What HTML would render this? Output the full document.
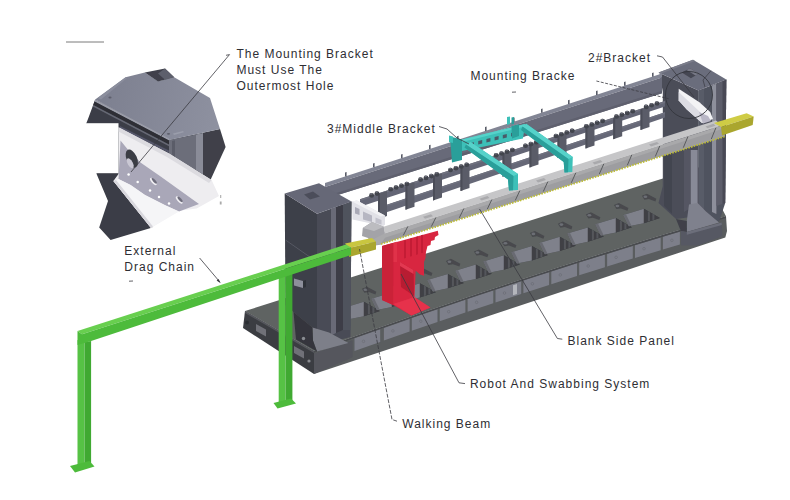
<!DOCTYPE html>
<html><head><meta charset="utf-8"><title>Layout</title>
<style>
html,body{margin:0;padding:0;background:#fff;}
body{width:790px;height:500px;overflow:hidden;position:relative;font-family:"Liberation Sans",sans-serif;}
svg{position:absolute;left:0;top:0;}
.t{position:absolute;white-space:nowrap;color:#2e2e33;font-size:12px;line-height:16px;letter-spacing:1px;}
</style></head><body>
<svg width="790" height="500" viewBox="0 0 790 500">
<defs><filter id="soft" x="-5%" y="-5%" width="110%" height="110%"><feGaussianBlur stdDeviation="0.55"/></filter></defs>
<g filter="url(#soft)">
<g id="base">
<polygon points="245.0,311.0 314.0,351.1 334.6,343.6 355.2,336.2 375.8,328.9 396.4,321.7 417.0,314.5 437.6,307.5 458.2,300.4 478.8,293.5 499.4,286.7 520.0,279.9 540.6,273.2 561.2,266.6 581.8,260.0 602.4,253.6 623.0,247.2 643.6,240.8 664.2,234.6 684.8,228.4 705.4,222.4 726.0,216.3 700.0,166.9 658.0,180.1" fill="#5f6362" />
<polygon points="245.0,311.0 314.0,351.0 314.0,374.0 243.0,328.0" fill="#3b3d42" />
<polygon points="314.0,351.1 334.6,343.6 355.2,336.2 375.8,328.9 396.4,321.7 417.0,314.5 437.6,307.5 458.2,300.4 478.8,293.5 499.4,286.7 520.0,279.9 540.6,273.2 561.2,266.6 581.8,260.0 602.4,253.6 623.0,247.2 643.6,240.8 664.2,234.6 684.8,228.4 705.4,222.4 726.0,216.3 727.0,231.0 725.3,237.4 314.0,374.0" fill="#5a5d5e" />
<polygon points="354.5,338.3 380.2,329.2 380.2,341.9 354.5,351.0" fill="#7d7f8a" />
<circle cx="363.5" cy="341.3" r="1.3" fill="none" stroke="#64666f" stroke-width="0.5"/>
<polygon points="383.9,327.9 409.6,318.9 409.6,331.6 383.9,340.6" fill="#7d7f8a" />
<circle cx="392.9" cy="330.9" r="1.3" fill="none" stroke="#64666f" stroke-width="0.5"/>
<polygon points="411.8,318.1 437.5,309.3 437.5,322.0 411.8,330.8" fill="#7d7f8a" />
<circle cx="420.8" cy="321.2" r="1.3" fill="none" stroke="#64666f" stroke-width="0.5"/>
<polygon points="439.7,308.5 465.4,299.8 465.4,312.5 439.7,321.2" fill="#7d7f8a" />
<circle cx="448.7" cy="311.7" r="1.3" fill="none" stroke="#64666f" stroke-width="0.5"/>
<polygon points="467.6,299.1 493.3,290.5 493.3,303.2 467.6,311.8" fill="#7d7f8a" />
<circle cx="476.6" cy="302.3" r="1.3" fill="none" stroke="#64666f" stroke-width="0.5"/>
<polygon points="495.5,289.8 521.2,281.3 521.2,294.0 495.5,302.5" fill="#7d7f8a" />
<circle cx="504.5" cy="293.0" r="1.3" fill="none" stroke="#64666f" stroke-width="0.5"/>
<polygon points="523.4,280.6 549.1,272.2 549.1,284.9 523.4,293.3" fill="#7d7f8a" />
<circle cx="532.4" cy="283.8" r="1.3" fill="none" stroke="#64666f" stroke-width="0.5"/>
<polygon points="551.3,271.5 577.0,263.3 577.0,276.0 551.3,284.2" fill="#7d7f8a" />
<circle cx="560.3" cy="274.9" r="1.3" fill="none" stroke="#64666f" stroke-width="0.5"/>
<polygon points="579.2,262.6 604.9,254.6 604.9,267.3 579.2,275.3" fill="#7d7f8a" />
<circle cx="588.2" cy="266.0" r="1.3" fill="none" stroke="#64666f" stroke-width="0.5"/>
<polygon points="607.1,253.9 632.8,245.9 632.8,258.6 607.1,266.6" fill="#7d7f8a" />
<circle cx="616.1" cy="257.3" r="1.3" fill="none" stroke="#64666f" stroke-width="0.5"/>
<polygon points="635.0,245.3 660.7,237.5 660.7,250.2 635.0,258.0" fill="#7d7f8a" />
<circle cx="644.0" cy="248.7" r="1.3" fill="none" stroke="#64666f" stroke-width="0.5"/>
<polygon points="662.9,236.8 679.9,231.7 679.9,244.4 662.9,249.5" fill="#7d7f8a" />
<circle cx="671.9" cy="240.3" r="1.3" fill="none" stroke="#64666f" stroke-width="0.5"/>
<polygon points="513.0,285.2 517.0,283.9 517.0,293.9 513.0,295.2" fill="#b4b6bc" />
<polygon points="314.0,353.5 352.5,340.2 352.5,357.2 314.0,374.0" fill="#54565d" />
<polygon points="256.0,324.0 266.0,329.5 266.0,336.5 256.0,331.0" fill="#6f7178" />
<polygon points="294.0,346.0 304.0,351.5 304.0,358.5 294.0,353.0" fill="#6f7178" />
<circle cx="247" cy="322.5" r="2" fill="#2c2e33"/><circle cx="304" cy="339" r="1.6" fill="#8a8c92"/><circle cx="309" cy="361" r="1.6" fill="#8a8c92"/>
<polygon points="245.0,311.0 314.0,351.0 314.0,353.0 245.0,313.0" fill="#55575c" />
<polygon points="314.0,351.1 334.6,343.6 355.2,336.2 375.8,328.9 396.4,321.7 417.0,314.5 437.6,307.5 458.2,300.4 478.8,293.5 499.4,286.7 520.0,279.9 540.6,273.2 561.2,266.6 581.8,260.0 602.4,253.6 623.0,247.2 643.6,240.8 664.2,234.6 684.8,228.4 705.4,222.4 726.0,216.3 726.0,217.9 705.4,224.0 684.8,230.0 664.2,236.2 643.6,242.4 623.0,248.8 602.4,255.2 581.8,261.6 561.2,268.2 540.6,274.8 520.0,281.5 499.4,288.3 478.8,295.1 458.2,302.0 437.6,309.1 417.0,316.1 396.4,323.3 375.8,330.5 355.2,337.8 334.6,345.2 314.0,352.7" fill="#494b4f" />
<polygon points="343.4,308.0 363.9,301.8 379.9,310.9 363.9,316.2 348.9,319.3" fill="#3e4044" />
<polygon points="343.4,308.0 363.9,301.8 363.9,316.2 348.9,319.3" fill="#7f818b" />
<polygon points="343.4,308.0 346.0,307.3 351.5,318.8 348.9,319.3" fill="#696b72" />
<polygon points="363.9,301.8 379.9,310.9 363.9,316.2" fill="#3f4145" />
<polygon points="367.9,304.1 369.9,305.2 369.9,314.0 367.9,314.6" fill="#55575c" />
<polygon points="372.4,306.6 374.4,307.8 374.4,312.6 372.4,313.2" fill="#55575c" />
<polygon points="361.9,288.8 366.9,286.7 376.4,291.7 375.4,294.5 368.9,292.1 364.4,292.8" fill="#484a4e" />
<ellipse cx="365.4" cy="289.7" rx="1.9" ry="1.3" fill="#6c6e74"/>
<polygon points="371.4,298.7 391.9,292.5 407.9,301.6 391.9,306.9 376.9,310.0" fill="#3e4044" />
<polygon points="371.4,298.7 391.9,292.5 391.9,306.9 376.9,310.0" fill="#7f818b" />
<polygon points="371.4,298.7 374.0,298.0 379.5,309.5 376.9,310.0" fill="#696b72" />
<polygon points="391.9,292.5 407.9,301.6 391.9,306.9" fill="#3f4145" />
<polygon points="395.9,294.8 397.9,295.9 397.9,304.7 395.9,305.3" fill="#55575c" />
<polygon points="400.4,297.3 402.4,298.5 402.4,303.3 400.4,303.9" fill="#55575c" />
<polygon points="389.9,279.5 394.9,277.4 404.4,282.4 403.4,285.2 396.9,282.8 392.4,283.5" fill="#484a4e" />
<ellipse cx="393.4" cy="280.4" rx="1.9" ry="1.3" fill="#6c6e74"/>
<polygon points="399.4,289.4 419.9,283.2 435.9,292.3 419.9,297.6 404.9,300.7" fill="#3e4044" />
<polygon points="399.4,289.4 419.9,283.2 419.9,297.6 404.9,300.7" fill="#7f818b" />
<polygon points="399.4,289.4 402.0,288.7 407.5,300.2 404.9,300.7" fill="#696b72" />
<polygon points="419.9,283.2 435.9,292.3 419.9,297.6" fill="#3f4145" />
<polygon points="423.9,285.5 425.9,286.6 425.9,295.4 423.9,296.0" fill="#55575c" />
<polygon points="428.4,288.0 430.4,289.2 430.4,294.0 428.4,294.6" fill="#55575c" />
<polygon points="417.9,270.2 422.9,268.1 432.4,273.1 431.4,275.9 424.9,273.5 420.4,274.2" fill="#484a4e" />
<ellipse cx="421.4" cy="271.1" rx="1.9" ry="1.3" fill="#6c6e74"/>
<polygon points="427.4,280.1 447.9,273.9 463.9,283.0 447.9,288.3 432.9,291.4" fill="#3e4044" />
<polygon points="427.4,280.1 447.9,273.9 447.9,288.3 432.9,291.4" fill="#7f818b" />
<polygon points="427.4,280.1 430.0,279.4 435.5,290.9 432.9,291.4" fill="#696b72" />
<polygon points="447.9,273.9 463.9,283.0 447.9,288.3" fill="#3f4145" />
<polygon points="451.9,276.2 453.9,277.3 453.9,286.1 451.9,286.7" fill="#55575c" />
<polygon points="456.4,278.7 458.4,279.9 458.4,284.7 456.4,285.3" fill="#55575c" />
<polygon points="445.9,260.9 450.9,258.8 460.4,263.8 459.4,266.6 452.9,264.2 448.4,264.9" fill="#484a4e" />
<ellipse cx="449.4" cy="261.8" rx="1.9" ry="1.3" fill="#6c6e74"/>
<polygon points="455.4,270.8 475.9,264.6 491.9,273.7 475.9,279.0 460.9,282.1" fill="#3e4044" />
<polygon points="455.4,270.8 475.9,264.6 475.9,279.0 460.9,282.1" fill="#7f818b" />
<polygon points="455.4,270.8 458.0,270.1 463.5,281.6 460.9,282.1" fill="#696b72" />
<polygon points="475.9,264.6 491.9,273.7 475.9,279.0" fill="#3f4145" />
<polygon points="479.9,266.9 481.9,268.0 481.9,276.8 479.9,277.4" fill="#55575c" />
<polygon points="484.4,269.4 486.4,270.6 486.4,275.4 484.4,276.0" fill="#55575c" />
<polygon points="473.9,251.6 478.9,249.5 488.4,254.5 487.4,257.3 480.9,254.9 476.4,255.6" fill="#484a4e" />
<ellipse cx="477.4" cy="252.5" rx="1.9" ry="1.3" fill="#6c6e74"/>
<polygon points="483.4,261.5 503.9,255.3 519.9,264.4 503.9,269.7 488.9,272.8" fill="#3e4044" />
<polygon points="483.4,261.5 503.9,255.3 503.9,269.7 488.9,272.8" fill="#7f818b" />
<polygon points="483.4,261.5 486.0,260.8 491.5,272.3 488.9,272.8" fill="#696b72" />
<polygon points="503.9,255.3 519.9,264.4 503.9,269.7" fill="#3f4145" />
<polygon points="507.9,257.6 509.9,258.7 509.9,267.5 507.9,268.1" fill="#55575c" />
<polygon points="512.4,260.1 514.4,261.3 514.4,266.1 512.4,266.7" fill="#55575c" />
<polygon points="501.9,242.3 506.9,240.2 516.4,245.2 515.4,248.0 508.9,245.6 504.4,246.3" fill="#484a4e" />
<ellipse cx="505.4" cy="243.2" rx="1.9" ry="1.3" fill="#6c6e74"/>
<polygon points="511.4,252.2 531.9,246.0 547.9,255.1 531.9,260.4 516.9,263.5" fill="#3e4044" />
<polygon points="511.4,252.2 531.9,246.0 531.9,260.4 516.9,263.5" fill="#7f818b" />
<polygon points="511.4,252.2 514.0,251.5 519.5,263.0 516.9,263.5" fill="#696b72" />
<polygon points="531.9,246.0 547.9,255.1 531.9,260.4" fill="#3f4145" />
<polygon points="535.9,248.3 537.9,249.4 537.9,258.2 535.9,258.8" fill="#55575c" />
<polygon points="540.4,250.8 542.4,252.0 542.4,256.8 540.4,257.4" fill="#55575c" />
<polygon points="529.9,233.0 534.9,230.9 544.4,235.9 543.4,238.7 536.9,236.3 532.4,237.0" fill="#484a4e" />
<ellipse cx="533.4" cy="233.9" rx="1.9" ry="1.3" fill="#6c6e74"/>
<polygon points="539.4,242.9 559.9,236.7 575.9,245.8 559.9,251.1 544.9,254.2" fill="#3e4044" />
<polygon points="539.4,242.9 559.9,236.7 559.9,251.1 544.9,254.2" fill="#7f818b" />
<polygon points="539.4,242.9 542.0,242.2 547.5,253.7 544.9,254.2" fill="#696b72" />
<polygon points="559.9,236.7 575.9,245.8 559.9,251.1" fill="#3f4145" />
<polygon points="563.9,239.0 565.9,240.1 565.9,248.9 563.9,249.5" fill="#55575c" />
<polygon points="568.4,241.5 570.4,242.7 570.4,247.5 568.4,248.1" fill="#55575c" />
<polygon points="557.9,223.7 562.9,221.6 572.4,226.6 571.4,229.4 564.9,227.0 560.4,227.7" fill="#484a4e" />
<ellipse cx="561.4" cy="224.6" rx="1.9" ry="1.3" fill="#6c6e74"/>
<polygon points="567.4,233.6 587.9,227.4 603.9,236.5 587.9,241.8 572.9,244.9" fill="#3e4044" />
<polygon points="567.4,233.6 587.9,227.4 587.9,241.8 572.9,244.9" fill="#7f818b" />
<polygon points="567.4,233.6 570.0,232.9 575.5,244.4 572.9,244.9" fill="#696b72" />
<polygon points="587.9,227.4 603.9,236.5 587.9,241.8" fill="#3f4145" />
<polygon points="591.9,229.7 593.9,230.8 593.9,239.6 591.9,240.2" fill="#55575c" />
<polygon points="596.4,232.2 598.4,233.4 598.4,238.2 596.4,238.8" fill="#55575c" />
<polygon points="585.9,214.4 590.9,212.3 600.4,217.3 599.4,220.1 592.9,217.7 588.4,218.4" fill="#484a4e" />
<ellipse cx="589.4" cy="215.3" rx="1.9" ry="1.3" fill="#6c6e74"/>
<polygon points="595.4,224.3 615.9,218.1 631.9,227.2 615.9,232.5 600.9,235.6" fill="#3e4044" />
<polygon points="595.4,224.3 615.9,218.1 615.9,232.5 600.9,235.6" fill="#7f818b" />
<polygon points="595.4,224.3 598.0,223.6 603.5,235.1 600.9,235.6" fill="#696b72" />
<polygon points="615.9,218.1 631.9,227.2 615.9,232.5" fill="#3f4145" />
<polygon points="619.9,220.4 621.9,221.5 621.9,230.3 619.9,230.9" fill="#55575c" />
<polygon points="624.4,222.9 626.4,224.1 626.4,228.9 624.4,229.5" fill="#55575c" />
<polygon points="613.9,205.1 618.9,203.0 628.4,208.0 627.4,210.8 620.9,208.4 616.4,209.1" fill="#484a4e" />
<ellipse cx="617.4" cy="206.0" rx="1.9" ry="1.3" fill="#6c6e74"/>
<polygon points="623.4,215.0 643.9,208.8 659.9,217.9 643.9,223.2 628.9,226.3" fill="#3e4044" />
<polygon points="623.4,215.0 643.9,208.8 643.9,223.2 628.9,226.3" fill="#7f818b" />
<polygon points="623.4,215.0 626.0,214.3 631.5,225.8 628.9,226.3" fill="#696b72" />
<polygon points="643.9,208.8 659.9,217.9 643.9,223.2" fill="#3f4145" />
<polygon points="647.9,211.1 649.9,212.2 649.9,221.0 647.9,221.6" fill="#55575c" />
<polygon points="652.4,213.6 654.4,214.8 654.4,219.6 652.4,220.2" fill="#55575c" />
<polygon points="641.9,195.8 646.9,193.7 656.4,198.7 655.4,201.5 648.9,199.1 644.4,199.8" fill="#484a4e" />
<ellipse cx="645.4" cy="196.7" rx="1.9" ry="1.3" fill="#6c6e74"/>
</g>
<g id="rcol">
<polygon points="659.5,73.0 698.5,90.6 698.5,216.0 676.0,219.0 658.5,203.0 662.8,186.0 662.8,92.0" fill="#4b4d59" />
<polygon points="664.0,150.0 672.0,152.0 672.0,214.0 664.0,206.0" fill="#434550" />
<polygon points="690.5,150.0 697.6,150.0 697.6,206.0 690.5,206.0" fill="#888a97" />
<polygon points="684.0,150.0 690.5,150.0 690.5,208.0 684.0,212.0" fill="#555763" />
<polygon points="698.5,90.6 726.3,79.5 725.2,203.0 719.0,222.0 698.5,216.0" fill="#50525e" />
<polygon points="698.5,90.6 704.0,88.5 704.0,212.0 698.5,214.0" fill="#595b68" />
<polygon points="712.0,85.5 716.4,83.8 716.4,214.0 712.0,212.0" fill="#8d8f9b" />
<polygon points="716.4,83.8 726.3,79.5 725.2,203.0 716.4,206.0" fill="#5b5d6a" />
<polygon points="722.5,81.5 726.3,79.5 725.2,203.0 722.5,204.0" fill="#484a55" />
<polygon points="689.0,204.4 697.6,203.0 706.0,211.6 719.0,222.4 686.8,232.0 686.8,221.0" fill="#7f818d" />
<polygon points="676.0,219.0 686.8,221.0 686.8,232.0 680.8,231.0" fill="#3f414a" />
<polygon points="680.8,231.0 686.8,232.0 721.6,222.4 722.5,236.0 698.0,245.5 681.0,245.5" fill="#565864" />
<polygon points="686.8,232.0 721.6,222.4 721.8,225.0 686.8,234.8" fill="#6c6e7a" />
<polygon points="658.5,72.4 693.0,59.8 726.3,79.5 698.5,90.6" fill="#6b6d7c" />
<polygon points="658.5,72.4 693.0,59.8 695.0,61.0 661.0,73.6" fill="#7a7c8a" />
<polygon points="681.8,72.4 689.9,68.2 699.0,73.4 690.9,78.3" fill="#454752" />
<polygon points="686.5,70.0 689.9,68.2 699.0,73.4 695.5,75.5" fill="#777986" />
<polygon points="678.7,88.7 699.4,102.2 710.2,112.0 713.0,119.0 702.0,123.0 686.8,109.4 678.7,100.4" fill="#f3f3f5" />
<polygon points="678.7,92.0 700.0,112.0 706.0,120.0 702.0,123.0 686.8,109.4 678.7,100.4" fill="#dcdce3" />
<polygon points="699.0,112.0 708.0,116.0 711.0,121.0 703.0,123.5" fill="#b9b7c6" />
</g>
<g id="rear">
<polygon points="325.0,182.9 662.0,73.5 662.0,77.5 325.0,186.9" fill="#828594" />
<polygon points="325.0,186.9 662.0,77.5 662.0,93.3 325.0,198.9" fill="#686a79" />
<polygon points="325.0,196.4 662.0,90.8 662.0,93.3 325.0,198.9" fill="#5e606e" />
<polygon points="345.0,172.6 346.6,172.1 346.6,176.4 345.0,176.4" fill="#595b67" />
<polygon points="373.0,163.5 374.6,163.0 374.6,167.3 373.0,167.3" fill="#595b67" />
<polygon points="401.0,154.4 402.6,153.9 402.6,158.2 401.0,158.2" fill="#595b67" />
<polygon points="429.0,145.3 430.6,144.8 430.6,149.1 429.0,149.1" fill="#595b67" />
<polygon points="457.0,136.2 458.6,135.7 458.6,140.0 457.0,140.0" fill="#595b67" />
<polygon points="485.0,127.1 486.6,126.6 486.6,130.9 485.0,130.9" fill="#595b67" />
<polygon points="513.0,118.1 514.6,117.6 514.6,121.9 513.0,121.9" fill="#595b67" />
<polygon points="541.0,109.0 542.6,108.5 542.6,112.8 541.0,112.8" fill="#595b67" />
<polygon points="568.0,100.2 569.6,99.7 569.6,104.0 568.0,104.0" fill="#595b67" />
<polygon points="596.0,91.1 597.6,90.6 597.6,94.9 596.0,94.9" fill="#595b67" />
<polygon points="624.0,82.0 625.6,81.5 625.6,85.8 624.0,85.8" fill="#595b67" />
<polygon points="652.0,73.0 653.6,72.5 653.6,76.8 652.0,76.8" fill="#595b67" />
</g>
<g id="rack">
<polygon points="380.0,207.1 665.0,112.3 665.0,117.6 380.0,214.5" fill="#666877" />
<polygon points="380.0,207.1 665.0,112.3 665.0,113.8 380.0,208.6" fill="#6f717f" />
<polygon points="360.0,199.3 665.0,101.1 665.0,106.4 360.0,206.8" fill="#636574" />
<polygon points="360.0,199.3 665.0,101.1 665.0,102.9 360.0,201.1" fill="#6f717f" />
<polygon points="378.0,194.0 387.0,191.1 387.0,216.1 378.0,219.1" fill="#5a5c68" />
<polygon points="378.0,194.0 380.0,193.3 380.0,218.5 378.0,219.1" fill="#4c4e59" />
<polygon points="405.5,185.1 414.5,182.2 414.5,206.8 405.5,209.8" fill="#5a5c68" />
<polygon points="405.5,185.1 407.5,184.5 407.5,209.1 405.5,209.8" fill="#4c4e59" />
<polygon points="433.0,176.3 442.0,173.4 442.0,197.4 433.0,200.4" fill="#5a5c68" />
<polygon points="433.0,176.3 435.0,175.6 435.0,199.8 433.0,200.4" fill="#4c4e59" />
<polygon points="460.5,167.4 469.5,164.5 469.5,188.1 460.5,191.1" fill="#5a5c68" />
<polygon points="460.5,167.4 462.5,166.8 462.5,190.4 460.5,191.1" fill="#4c4e59" />
<polygon points="502.5,153.9 511.5,151.0 511.5,173.8 502.5,176.8" fill="#5a5c68" />
<polygon points="502.5,153.9 504.5,153.2 504.5,176.1 502.5,176.8" fill="#4c4e59" />
<polygon points="529.5,145.2 538.5,142.3 538.5,164.6 529.5,167.6" fill="#5a5c68" />
<polygon points="529.5,145.2 531.5,144.5 531.5,167.0 529.5,167.6" fill="#4c4e59" />
<polygon points="557.5,136.2 566.5,133.3 566.5,155.1 557.5,158.1" fill="#5a5c68" />
<polygon points="557.5,136.2 559.5,135.5 559.5,157.5 557.5,158.1" fill="#4c4e59" />
<polygon points="585.5,127.2 594.5,124.3 594.5,145.6 585.5,148.6" fill="#5a5c68" />
<polygon points="585.5,127.2 587.5,126.5 587.5,147.9 585.5,148.6" fill="#4c4e59" />
<polygon points="613.2,118.2 622.2,115.3 622.2,136.2 613.2,139.2" fill="#5a5c68" />
<polygon points="613.2,118.2 615.2,117.6 615.2,138.5 613.2,139.2" fill="#4c4e59" />
<polygon points="640.5,109.4 649.5,106.5 649.5,126.9 640.5,129.9" fill="#5a5c68" />
<polygon points="640.5,109.4 642.5,108.8 642.5,129.2 640.5,129.9" fill="#4c4e59" />
<ellipse cx="371.6" cy="195.4" rx="2.5" ry="2.3" fill="#42444d"/>
<ellipse cx="371.2" cy="193.9" rx="1.4" ry="0.8" fill="#6d6f7a"/>
<ellipse cx="377.0" cy="193.6" rx="2.5" ry="2.3" fill="#42444d"/>
<ellipse cx="376.6" cy="192.1" rx="1.4" ry="0.8" fill="#6d6f7a"/>
<ellipse cx="390.7" cy="189.2" rx="2.5" ry="2.3" fill="#42444d"/>
<ellipse cx="390.3" cy="187.7" rx="1.4" ry="0.8" fill="#6d6f7a"/>
<ellipse cx="396.1" cy="187.5" rx="2.5" ry="2.3" fill="#42444d"/>
<ellipse cx="395.7" cy="186.0" rx="1.4" ry="0.8" fill="#6d6f7a"/>
<ellipse cx="401.5" cy="185.8" rx="2.5" ry="2.3" fill="#42444d"/>
<ellipse cx="401.1" cy="184.3" rx="1.4" ry="0.8" fill="#6d6f7a"/>
<ellipse cx="406.9" cy="184.0" rx="2.5" ry="2.3" fill="#42444d"/>
<ellipse cx="406.5" cy="182.5" rx="1.4" ry="0.8" fill="#6d6f7a"/>
<ellipse cx="420.6" cy="179.6" rx="2.5" ry="2.3" fill="#42444d"/>
<ellipse cx="420.2" cy="178.1" rx="1.4" ry="0.8" fill="#6d6f7a"/>
<ellipse cx="426.0" cy="177.9" rx="2.5" ry="2.3" fill="#42444d"/>
<ellipse cx="425.6" cy="176.4" rx="1.4" ry="0.8" fill="#6d6f7a"/>
<ellipse cx="431.4" cy="176.1" rx="2.5" ry="2.3" fill="#42444d"/>
<ellipse cx="431.0" cy="174.6" rx="1.4" ry="0.8" fill="#6d6f7a"/>
<ellipse cx="436.8" cy="174.4" rx="2.5" ry="2.3" fill="#42444d"/>
<ellipse cx="436.4" cy="172.9" rx="1.4" ry="0.8" fill="#6d6f7a"/>
<ellipse cx="450.5" cy="170.0" rx="2.5" ry="2.3" fill="#42444d"/>
<ellipse cx="450.1" cy="168.5" rx="1.4" ry="0.8" fill="#6d6f7a"/>
<ellipse cx="455.9" cy="168.2" rx="2.5" ry="2.3" fill="#42444d"/>
<ellipse cx="455.5" cy="166.7" rx="1.4" ry="0.8" fill="#6d6f7a"/>
<ellipse cx="461.3" cy="166.5" rx="2.5" ry="2.3" fill="#42444d"/>
<ellipse cx="460.9" cy="165.0" rx="1.4" ry="0.8" fill="#6d6f7a"/>
<ellipse cx="466.7" cy="164.8" rx="2.5" ry="2.3" fill="#42444d"/>
<ellipse cx="466.3" cy="163.3" rx="1.4" ry="0.8" fill="#6d6f7a"/>
<ellipse cx="496.2" cy="155.3" rx="2.5" ry="2.3" fill="#42444d"/>
<ellipse cx="495.8" cy="153.8" rx="1.4" ry="0.8" fill="#6d6f7a"/>
<ellipse cx="501.6" cy="153.5" rx="2.5" ry="2.3" fill="#42444d"/>
<ellipse cx="501.2" cy="152.0" rx="1.4" ry="0.8" fill="#6d6f7a"/>
<ellipse cx="507.0" cy="151.8" rx="2.5" ry="2.3" fill="#42444d"/>
<ellipse cx="506.6" cy="150.3" rx="1.4" ry="0.8" fill="#6d6f7a"/>
<ellipse cx="512.4" cy="150.0" rx="2.5" ry="2.3" fill="#42444d"/>
<ellipse cx="512.0" cy="148.5" rx="1.4" ry="0.8" fill="#6d6f7a"/>
<ellipse cx="525.5" cy="145.8" rx="2.5" ry="2.3" fill="#42444d"/>
<ellipse cx="525.1" cy="144.3" rx="1.4" ry="0.8" fill="#6d6f7a"/>
<ellipse cx="530.9" cy="144.1" rx="2.5" ry="2.3" fill="#42444d"/>
<ellipse cx="530.5" cy="142.6" rx="1.4" ry="0.8" fill="#6d6f7a"/>
<ellipse cx="536.3" cy="142.3" rx="2.5" ry="2.3" fill="#42444d"/>
<ellipse cx="535.9" cy="140.8" rx="1.4" ry="0.8" fill="#6d6f7a"/>
<ellipse cx="541.7" cy="140.6" rx="2.5" ry="2.3" fill="#42444d"/>
<ellipse cx="541.3" cy="139.1" rx="1.4" ry="0.8" fill="#6d6f7a"/>
<ellipse cx="556.0" cy="136.0" rx="2.5" ry="2.3" fill="#42444d"/>
<ellipse cx="555.6" cy="134.5" rx="1.4" ry="0.8" fill="#6d6f7a"/>
<ellipse cx="561.4" cy="134.3" rx="2.5" ry="2.3" fill="#42444d"/>
<ellipse cx="561.0" cy="132.8" rx="1.4" ry="0.8" fill="#6d6f7a"/>
<ellipse cx="566.8" cy="132.5" rx="2.5" ry="2.3" fill="#42444d"/>
<ellipse cx="566.4" cy="131.0" rx="1.4" ry="0.8" fill="#6d6f7a"/>
<ellipse cx="572.2" cy="130.8" rx="2.5" ry="2.3" fill="#42444d"/>
<ellipse cx="571.8" cy="129.3" rx="1.4" ry="0.8" fill="#6d6f7a"/>
<ellipse cx="586.4" cy="126.2" rx="2.5" ry="2.3" fill="#42444d"/>
<ellipse cx="586.0" cy="124.7" rx="1.4" ry="0.8" fill="#6d6f7a"/>
<ellipse cx="591.8" cy="124.5" rx="2.5" ry="2.3" fill="#42444d"/>
<ellipse cx="591.4" cy="123.0" rx="1.4" ry="0.8" fill="#6d6f7a"/>
<ellipse cx="597.2" cy="122.7" rx="2.5" ry="2.3" fill="#42444d"/>
<ellipse cx="596.8" cy="121.2" rx="1.4" ry="0.8" fill="#6d6f7a"/>
<ellipse cx="602.6" cy="121.0" rx="2.5" ry="2.3" fill="#42444d"/>
<ellipse cx="602.2" cy="119.5" rx="1.4" ry="0.8" fill="#6d6f7a"/>
<ellipse cx="616.5" cy="116.5" rx="2.5" ry="2.3" fill="#42444d"/>
<ellipse cx="616.1" cy="115.0" rx="1.4" ry="0.8" fill="#6d6f7a"/>
<ellipse cx="621.9" cy="114.8" rx="2.5" ry="2.3" fill="#42444d"/>
<ellipse cx="621.5" cy="113.3" rx="1.4" ry="0.8" fill="#6d6f7a"/>
<ellipse cx="627.3" cy="113.0" rx="2.5" ry="2.3" fill="#42444d"/>
<ellipse cx="626.9" cy="111.5" rx="1.4" ry="0.8" fill="#6d6f7a"/>
<ellipse cx="632.7" cy="111.3" rx="2.5" ry="2.3" fill="#42444d"/>
<ellipse cx="632.3" cy="109.8" rx="1.4" ry="0.8" fill="#6d6f7a"/>
<ellipse cx="646.2" cy="106.9" rx="2.5" ry="2.3" fill="#42444d"/>
<ellipse cx="645.8" cy="105.4" rx="1.4" ry="0.8" fill="#6d6f7a"/>
<ellipse cx="651.6" cy="105.2" rx="2.5" ry="2.3" fill="#42444d"/>
<ellipse cx="651.2" cy="103.7" rx="1.4" ry="0.8" fill="#6d6f7a"/>
<ellipse cx="657.0" cy="103.5" rx="2.5" ry="2.3" fill="#42444d"/>
<ellipse cx="656.6" cy="102.0" rx="1.4" ry="0.8" fill="#6d6f7a"/>
</g>
<g id="lcol">
<polygon points="284.7,193.4 317.0,213.7 317.0,330.0 312.5,327.5 293.5,312.0 285.5,305.0" fill="#3d3f48" />
<polygon points="317.0,213.7 351.5,201.5 350.5,337.0 341.0,339.5 329.0,333.0 317.0,329.5" fill="#4a4c56" />
<polygon points="331.0,208.8 336.0,207.0 336.0,333.0 331.0,335.5" fill="#696b77" />
<polygon points="336.0,207.0 343.0,204.5 343.0,330.0 336.0,333.0" fill="#3c3e47" />
<polygon points="343.0,204.5 351.5,201.5 350.5,330.0 343.0,330.0" fill="#50525d" />
<polygon points="284.7,193.4 319.0,183.3 351.5,201.5 317.0,213.7" fill="#666877" />
<polygon points="304.0,194.4 313.0,191.4 320.0,196.5 310.0,199.5" fill="#4c4e5a" />
<line x1="285.5" y1="240.0" x2="317.0" y2="262.0" stroke="#5d5f6b" stroke-width="0.8" />
<polygon points="294.0,278.5 303.0,281.0 303.0,288.0 294.0,285.5" fill="#8d8f9b" />
<polygon points="303.0,281.0 306.0,280.0 306.0,287.0 303.0,288.0" fill="#2f3138" />
<polygon points="312.5,327.5 329.0,332.5 348.4,343.0 317.0,351.5 313.0,340.6" fill="#7d7f89" />
<polygon points="293.5,312.0 312.5,327.5 313.0,340.6 317.0,351.5 296.0,339.5" fill="#34363c" />
<circle cx="303.5" cy="338.5" r="1.7" fill="#8a8c92"/>
</g>
<g id="lbr">
<polygon points="352.0,201.4 357.0,200.5 385.0,215.5 385.0,224.8 383.0,226.0 352.5,219.5" fill="#e1e1e7" />
<polygon points="352.0,201.4 357.0,200.5 385.0,215.5 381.0,216.5" fill="#f1f1f4" />
<polygon points="355.0,207.0 359.5,209.0 359.5,215.0 355.0,213.5" fill="#a9a9b6" />
<polygon points="363.0,211.5 372.0,215.5 372.0,222.0 363.0,219.5" fill="#b6b6c2" />
<polygon points="375.5,217.5 381.5,220.0 381.5,224.5 375.5,223.0" fill="#c2c2cc" />
<polygon points="362.8,228.0 372.0,222.0 384.0,226.7 385.0,233.0 381.8,244.4 372.0,246.0 368.0,238.0 362.0,236.0" fill="#a3a3a8" />
<polygon points="362.8,228.0 372.0,222.0 384.0,226.7 374.0,231.0" fill="#bcbcc0" />
</g>
<g id="robot">
<polygon points="382.0,246.0 437.8,230.8 438.5,235.0 435.0,237.0 434.5,240.0 431.0,241.0 430.5,245.0 427.5,246.0 426.0,252.0 425.5,258.0 424.0,262.0 424.0,275.8 420.0,274.5 415.7,270.7 414.5,298.0 430.4,307.5 411.4,315.4 393.2,305.0 382.0,300.0" fill="#d8273f" />
<polygon points="382.0,246.0 393.5,242.8 393.2,305.0 382.0,300.0" fill="#ca2038" />
<polygon points="393.5,242.8 397.0,241.8 397.0,262.0 393.5,262.0" fill="#e0334a" />
<polygon points="393.2,304.0 414.5,297.0 430.4,307.5 411.4,315.4" fill="#e6304c" />
<polygon points="400.0,262.0 413.5,270.0 414.0,296.0 401.0,287.0" fill="#b81a31" />
<polygon points="400.0,262.0 413.5,270.0 413.5,274.0 400.0,266.0" fill="#e23851" />
<polygon points="404.0,240.6 406.0,240.0 406.0,258.0 404.0,258.6" fill="#c41d35" />
<polygon points="410.0,238.8 412.0,238.1 412.0,256.1 410.0,256.8" fill="#c41d35" />
<polygon points="416.0,236.9 418.0,236.3 418.0,254.3 416.0,254.9" fill="#c41d35" />
<polygon points="421.0,235.3 423.0,234.7 423.0,252.7 421.0,253.3" fill="#c41d35" />
</g>
<g id="wbeam">
<polygon points="383.5,226.8 716.0,120.4 722.0,125.5 385.0,233.3" fill="#c6c6c8" />
<polygon points="385.0,233.3 722.0,125.5 725.0,136.2 380.5,244.0 372.0,246.0 370.0,241.0" fill="#a9a9ab" />
<polygon points="385.0,237.8 722.0,129.0 725.0,136.2 380.5,244.0" fill="#9d9da0" />
<line x1="407.8" y1="226.5" x2="403.3" y2="235.4" stroke="#5a5c5e" stroke-width="1.0" />
<line x1="435.8" y1="217.6" x2="431.3" y2="226.6" stroke="#5a5c5e" stroke-width="1.0" />
<line x1="463.8" y1="208.6" x2="459.3" y2="217.8" stroke="#5a5c5e" stroke-width="1.0" />
<line x1="491.8" y1="199.6" x2="487.3" y2="209.1" stroke="#5a5c5e" stroke-width="1.0" />
<line x1="519.8" y1="190.7" x2="515.3" y2="200.3" stroke="#5a5c5e" stroke-width="1.0" />
<line x1="547.8" y1="181.7" x2="543.3" y2="191.5" stroke="#5a5c5e" stroke-width="1.0" />
<line x1="575.8" y1="172.8" x2="571.3" y2="182.8" stroke="#5a5c5e" stroke-width="1.0" />
<line x1="603.8" y1="163.8" x2="599.3" y2="174.0" stroke="#5a5c5e" stroke-width="1.0" />
<line x1="631.8" y1="154.8" x2="627.3" y2="165.3" stroke="#5a5c5e" stroke-width="1.0" />
<line x1="659.8" y1="145.9" x2="655.3" y2="156.5" stroke="#5a5c5e" stroke-width="1.0" />
<line x1="687.8" y1="136.9" x2="683.3" y2="147.7" stroke="#5a5c5e" stroke-width="1.0" />
<line x1="715.8" y1="128.0" x2="711.3" y2="139.0" stroke="#5a5c5e" stroke-width="1.0" />
<polygon points="423.0,216.8 431.0,214.2 433.0,216.2 425.0,218.7" fill="#a9a9ac" />
<polygon points="479.5,198.7 487.5,196.1 489.5,198.1 481.5,200.6" fill="#a9a9ac" />
<polygon points="536.0,180.6 544.0,178.0 546.0,180.0 538.0,182.6" fill="#a9a9ac" />
<polygon points="592.5,162.5 600.5,160.0 602.5,161.9 594.5,164.5" fill="#a9a9ac" />
<polygon points="649.0,144.4 657.0,141.9 659.0,143.8 651.0,146.4" fill="#a9a9ac" />
<polygon points="705.5,126.4 713.5,123.8 715.5,125.8 707.5,128.3" fill="#a9a9ac" />
<path d="M381.0 244.0 L725.0 136.4" stroke="#bdbd36" stroke-width="1.8" stroke-dasharray="1.5 1.3" fill="none"/>
<polygon points="345.0,243.5 372.0,238.0 376.0,241.5 349.0,248.0" fill="#c9c640" />
<polygon points="349.0,248.0 376.0,241.5 376.0,249.5 349.0,257.0" fill="#aaa62e" />
<polygon points="714.0,123.0 746.6,113.3 753.7,116.5 721.0,127.0" fill="#cfcc44" />
<polygon points="721.0,127.0 753.7,116.5 752.7,125.0 722.0,135.5" fill="#aaa62e" />
</g>
<g id="cyan">
<polygon points="450.0,136.5 462.0,139.5 462.0,160.0 452.0,162.5" fill="#2a9f9a" />
<polygon points="462.0,139.5 525.0,124.0 523.0,138.5 462.0,151.0" fill="#3cc0b8" />
<polygon points="462.0,139.5 525.0,124.0 525.0,126.5 462.0,142.0" fill="#57d2ca" />
<polygon points="470.0,143.2 474.0,142.2 474.0,145.7 470.0,146.7" fill="#4a5a68" />
<polygon points="478.2,141.1 482.2,140.1 482.2,143.6 478.2,144.6" fill="#4a5a68" />
<polygon points="486.4,139.1 490.4,138.1 490.4,141.6 486.4,142.6" fill="#4a5a68" />
<polygon points="494.6,137.0 498.6,136.0 498.6,139.5 494.6,140.5" fill="#4a5a68" />
<polygon points="502.8,135.0 506.8,134.0 506.8,137.5 502.8,138.5" fill="#4a5a68" />
<polygon points="511.0,132.9 515.0,131.9 515.0,135.4 511.0,136.4" fill="#4a5a68" />
<polygon points="511.4,126.0 519.0,124.2 519.0,136.0 512.0,138.5" fill="#2a9f9a" />
<polygon points="449.0,135.5 453.0,136.5 453.0,143.0 449.0,142.0" fill="#3cc0b8" />
<polygon points="507.0,117.0 510.0,116.5 510.0,124.0 507.0,125.0" fill="#3cc0b8" />
<polygon points="511.5,117.5 514.0,117.0 514.0,124.0 511.5,124.5" fill="#2a9f9a" />
<polygon points="464.5,147.5 470.5,142.0 518.0,174.0 518.0,190.0 509.0,190.5 508.0,179.5" fill="#3cc0b8" />
<polygon points="466.0,144.5 470.5,142.0 518.0,174.0 513.5,176.0" fill="#57d2ca" />
<polygon points="464.5,147.5 466.0,144.5 513.5,176.0 513.0,190.2 509.0,190.5 508.0,179.5" fill="#2a9f9a" />
<polygon points="521.0,130.0 526.2,123.8 572.8,157.0 572.3,172.0 564.5,172.5 563.7,162.0" fill="#3cc0b8" />
<polygon points="522.5,126.5 526.2,123.8 572.8,157.0 568.5,159.0" fill="#57d2ca" />
<polygon points="521.0,130.0 522.5,126.5 568.5,159.0 568.0,172.3 564.5,172.5 563.7,162.0" fill="#2a9f9a" />
</g>
<g id="green">
<polygon points="278.7,276.9 285.5,274.7 285.5,403.0 278.7,404.0" fill="#57c244" />
<polygon points="285.5,274.7 292.4,272.4 292.4,401.5 285.5,403.0" fill="#41a932" />
<polygon points="273.5,403.0 291.0,398.5 296.0,403.5 277.5,408.5" fill="#4dbb3b" />
<polygon points="77.5,340.0 84.5,342.0 84.5,465.0 77.5,466.5" fill="#57c244" />
<polygon points="84.5,342.0 91.1,341.0 91.1,463.0 84.5,465.0" fill="#41a932" />
<polygon points="70.0,466.0 89.5,461.0 94.5,466.5 75.0,472.5" fill="#4dbb3b" />
<polygon points="77.5,331.1 346.0,244.6 351.0,247.5 82.0,334.2" fill="#68cf50" />
<polygon points="82.0,334.2 351.0,247.5 351.0,255.0 91.1,341.0 77.5,345.0 77.5,331.1" fill="#4dbb3b" />
</g>
<g id="inset"><defs><linearGradient id="gtop" x1="95" y1="90" x2="220" y2="120" gradientUnits="userSpaceOnUse"><stop offset="0" stop-color="#7c7f8f"/><stop offset="1" stop-color="#8e91a0"/></linearGradient></defs>
<!-- left dark face + lower dark -->
<polygon points="95.2,99.5 169,138 169,160 119.5,174.3 114.4,180.6 152.4,227.5 110.6,240 99.2,227.5 108,201 96.7,174.3 86,124 88,119" fill="#3b3d46"/>
<!-- right face -->
<polygon points="169,140 220,129 225.6,147 210,181 169,158" fill="#3f4149"/>
<polygon points="169,140 196,134.5 196,170 169,156" fill="#6c6e7a"/>
<polygon points="196,134.5 203,133 203,174.5 196,170" fill="#8a8c98"/>
<polygon points="172,141 175,140.3 175,159 172,157.5" fill="#5a5c68"/>
<!-- top surface -->
<polygon points="125.6,77.2 144.8,72.6 158,81.3 174.2,77.2 210,98 220,129 169,140 95.2,99.5" fill="url(#gtop)"/>
<polygon points="144.8,72.6 165,68.5 174.2,77.2 158,81.5" fill="#3f414b"/>
<polygon points="158,73.5 165,68.5 174.2,77.2 165,79.8" fill="#5d5f6c"/>
<polygon points="98,98 125.6,77.2 127,78 101,99.5" fill="#8b8e9d"/>
<!-- bolt marks on top -->
<ellipse cx="110" cy="97.5" rx="1.6" ry="0.9" fill="#5d5f6c"/><ellipse cx="168.5" cy="133.8" rx="1.6" ry="0.9" fill="#5d5f6c"/>
<polygon points="173,133.5 183,131 184,132.3 174,135" fill="#9a9dab"/>
<!-- front lip lines under the top -->
<polygon points="95.2,99.5 169,138.4 169,140.5 94.4,101.5" fill="#9a9ca8"/>
<polygon points="94.4,101.5 169,140.5 169,144.5 93.3,105" fill="#2d2f36"/>
<polygon points="93.3,105 169,144.5 169,146.2 92.8,106.6" fill="#666874"/>
<polygon points="120,126 169,150.5 169,153 120,128.5" fill="#55576a"/>
<!-- white cover rect -->
<rect x="76" y="123.2" width="42.5" height="50" fill="#ffffff"/>
<!-- bracket white band -->
<polygon points="118.5,127.2 169,153.5 211.6,180 219,196 196.7,208.5 177,211 151,228 113.4,181 118.5,174" fill="#eeedf0"/>
<polygon points="118.5,127.2 169,153.5 211.6,180 209,183 167,157 118.5,131.5" fill="#dcdbe0"/>
<!-- bracket inner lilac face -->
<polygon points="120.5,140.4 128.6,150.5 140.8,162.7 161,176.8 193.4,200 199,204 179,211.5 165.2,205.2 145,195 130.6,185 118.5,178.9" fill="#a9a7b8"/>
<!-- big hole -->
<ellipse cx="131.8" cy="158.6" rx="5.2" ry="9.6" fill="#3a3c45" transform="rotate(-24 131.8 158.6)"/>
<ellipse cx="130.2" cy="163.2" rx="2.6" ry="5.4" fill="#c9c7d3" transform="rotate(-30 130.2 163.2)"/>
<!-- small holes -->
<circle cx="128.6" cy="174.4" r="1.25" fill="#fff"/><circle cx="137.7" cy="182" r="1.25" fill="#fff"/><circle cx="150" cy="190.6" r="1.25" fill="#fff"/><circle cx="159" cy="197" r="1.25" fill="#fff"/><circle cx="169" cy="203.6" r="1.25" fill="#fff"/>
<ellipse cx="153.4" cy="181.4" rx="1.9" ry="4.6" fill="#f0eff3" transform="rotate(-42 153.4 181.4)"/>
<ellipse cx="154.3" cy="180.8" rx="1.3" ry="3.6" fill="#6e6d7c" transform="rotate(-42 154.3 180.8)"/>
<ellipse cx="179.2" cy="200" rx="1.9" ry="4.6" fill="#f0eff3" transform="rotate(-42 179.2 200)"/>
<ellipse cx="180.1" cy="199.4" rx="1.3" ry="3.6" fill="#6e6d7c" transform="rotate(-42 180.1 199.4)"/>
<!-- lower white flange -->
<polygon points="113.4,181 118.5,178.9 130.6,185 145,195 165.2,205.2 179,211.5 151,228" fill="#f5f5f7"/>
<polygon points="113.4,181 116,180 153,226.5 151,228" fill="#d8d7dd"/>
<!-- tiny marks -->
<rect x="220.3" y="195" width="0.9" height="3" fill="#999"/><rect x="219.8" y="201.5" width="1.8" height="3" fill="#aaa"/>
</g>

</g>
<g id="leaders" fill="none" stroke="#3a3a40" stroke-width="0.8">
<line x1="66" y1="42" x2="104" y2="42" stroke="#7a7a7a" stroke-width="1"/>
<polyline points="226,55.3 229.5,54.6 131,172"/>
<polyline points="657,55.8 662.5,57 694,97"/>
<polyline points="711,70.7 703,80 705,87" stroke-width="0.7"/>
<line x1="596.4" y1="81" x2="668.6" y2="98.7" stroke-dasharray="3 1.5"/>
<line x1="512" y1="92.2" x2="516" y2="92"/>
<polyline points="439,126.5 447,129 457,138 469,144"/>
<polyline points="199.6,258 220,282.2"/>
<polygon points="220.6,283.2 216.6,280.6 218.6,279" fill="#3a3a40" stroke="none"/>
<line x1="129" y1="281.2" x2="133" y2="281"/>
<polyline points="562.3,339.2 557.4,338.5 479.5,209"/>
<polyline points="465,383.6 459,382.8 401,274"/>
<polyline points="397,421.2 392,419.5 359.5,249" stroke-dasharray="4 1.5"/>
<circle cx="689" cy="95" r="23.5" stroke="#33353c" stroke-width="0.9"/>
</g>

</svg>
<div class="t" style="left:236.4px;top:45.8px;">The Mounting Bracket<br>Must Use The<br>Outermost Hole</div>
<div class="t" style="left:588px;top:50.2px;">2#Bracket</div>
<div class="t" style="left:470.4px;top:68px;">Mounting Bracke</div>
<div class="t" style="left:327px;top:121.4px;">3#Middle Bracket</div>
<div class="t" style="left:124.3px;top:243px;">External<br>Drag Chain</div>
<div class="t" style="left:567.5px;top:333px;">Blank Side Panel</div>
<div class="t" style="left:469.9px;top:376px;">Robot And Swabbing System</div>
<div class="t" style="left:402.3px;top:416px;">Walking Beam</div>

</body></html>
